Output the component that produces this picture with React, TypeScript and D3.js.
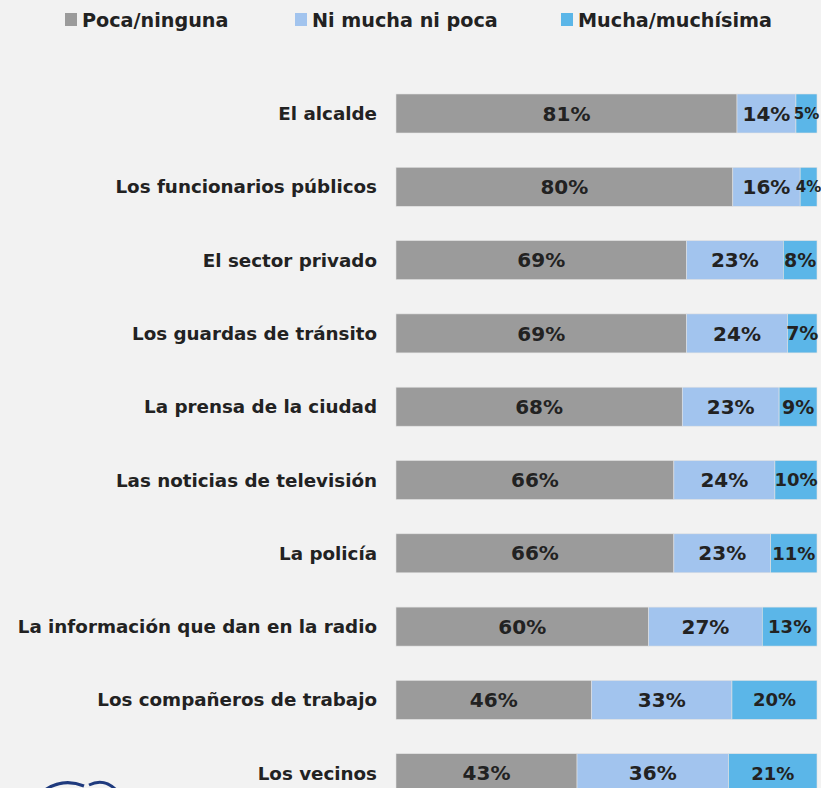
import React from "react";
import * as d3 from "d3";

const categories = [
  "El alcalde",
  "Los funcionarios públicos",
  "El sector privado",
  "Los guardas de tránsito",
  "La prensa de la ciudad",
  "Las noticias de televisión",
  "La policía",
  "La información que dan en la radio",
  "Los compañeros de trabajo",
  "Los vecinos",
];
const poca = [81, 80, 69, 69, 68, 66, 66, 60, 46, 43];
const niMucha = [14, 16, 23, 24, 23, 24, 23, 27, 33, 36];
const mucha = [5, 4, 8, 7, 9, 10, 11, 13, 20, 21];
const seriesNames = ["Poca/ninguna", "Ni mucha ni poca", "Mucha/muchísima"];
const colors = ["#9b9b9b", "#a2c4ee", "#5bb6e8"];

const W = 821;
const H = 788;
const FONT = "'Century Gothic', 'DejaVu Sans', sans-serif";

export default function App() {
  const x = d3.scaleLinear().domain([0, 1]).range([396, 817]);
  const step = 73.3;
  const pi = 0.468;
  const y = d3
    .scaleBand<string>()
    .domain(categories)
    .range([94, 94 + step * (categories.length - pi)])
    .paddingInner(pi)
    .paddingOuter(0);

  const raw = [poca, niMucha, mucha];
  const rows = categories.map((c, i) => ({ "0": poca[i], "1": niMucha[i], "2": mucha[i], cat: c }));
  const stack = d3.stack<any>().keys(["0", "1", "2"]).offset(d3.stackOffsetExpand)(rows);

  const legendX = [65, 295, 561];

  return (
    <svg width={W} height={H} style={{ display: "block", position: "absolute", left: 0, top: 0 }}>
      <rect x={0} y={0} width={W} height={H} fill="#f2f2f2" />
      {/* legend */}
      {seriesNames.map((s, i) => (
        <g key={s}>
          <rect x={legendX[i]} y={13} width={12} height={13} fill={colors[i]} />
          <text
            x={legendX[i] + 17}
            y={26.5}
            fontFamily={FONT}
            fontWeight="bold"
            fontSize={19.2}
            fill="#222"
          >
            {s}
          </text>
        </g>
      ))}
      {/* bars */}
      {stack.map((layer, si) => (
        <g key={si}>
          {layer.map((d: any, i: number) => {
            const x0 = x(d[0]);
            const x1 = x(d[1]);
            const yy = y(categories[i])!;
            const v = raw[si][i];
            const fs = si === 2 ? (v <= 5 ? 15 : v < 10 ? 19 : 18) : 20;
            const label = `${v}%`;
            const estW = label.length * fs * 0.62;
            const cx = (x0 + x1) / 2;
            const overflow = cx + estW / 2 > W - 2;
            return (
              <g key={i}>
                <rect
                  x={x0}
                  y={yy}
                  width={x1 - x0}
                  height={y.bandwidth()}
                  fill={colors[si]}
                  stroke="#e2e2e2"
                  strokeWidth={0.6}
                />
                <text
                  x={overflow ? W - 2 : cx}
                  y={yy + y.bandwidth() / 2}
                  dy="0.36em"
                  textAnchor={overflow ? "end" : "middle"}
                  fontFamily={FONT}
                  fontWeight="bold"
                  fontSize={fs}
                  fill="#222"
                >
                  {label}
                </text>
              </g>
            );
          })}
        </g>
      ))}
      {/* category labels */}
      {categories.map((c) => (
        <text
          key={c}
          x={377}
          y={y(c)! + y.bandwidth() / 2}
          dy="0.36em"
          textAnchor="end"
          fontFamily={FONT}
          fontWeight="bold"
          fontSize={18.3}
          fill="#222"
        >
          {c}
        </text>
      ))}
      {/* logo fragment */}
      <g fill="none" stroke="#1f3a7d" strokeWidth={3}>
        <path d="M 42 792 Q 62 777 84 786" />
        <path d="M 89 785 Q 105 777 118 792" />
      </g>
    </svg>
  );
}
